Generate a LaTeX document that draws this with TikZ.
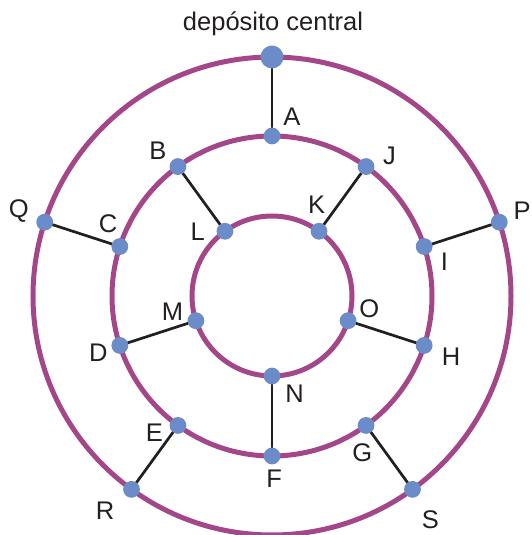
\documentclass[tikz,border=0pt]{standalone}
\usepackage{fontspec}
\setmainfont{Liberation Sans}
\definecolor{ring}{HTML}{A3478A}
\definecolor{dotblue}{HTML}{6B8CC8}
\definecolor{wire}{HTML}{231F20}
\begin{document}
\begin{tikzpicture}[x=1pt,y=1pt,
  ringline/.style={draw=ring,line width=5pt},
  wireline/.style={draw=wire,line width=2.7pt},
  dot/.style={circle,fill=dotblue,minimum size=16.8pt,inner sep=0pt},
  bigdot/.style={circle,fill=dotblue,minimum size=23pt,inner sep=0pt},
  lab/.style={inner sep=0pt,font=\fontsize{25.5}{30}\selectfont,text=wire}]
\useasboundingbox (-272,296) rectangle (260,-239);
\draw[ringline] (0,0) circle (239);
\draw[ringline] (0,0) circle (160);
\draw[ringline] (0,0) circle (80);
% outer ring points
\coordinate (dep) at (90:239);
\coordinate (Q) at (162:239);
\coordinate (R) at (234:239);
\coordinate (S) at (306:239);
\coordinate (P) at (18:239);
% middle ring points
\coordinate (A) at (90:160);
\coordinate (B) at (126:160);
\coordinate (C) at (162:160);
\coordinate (D) at (198:160);
\coordinate (E) at (234:160);
\coordinate (F) at (270:160);
\coordinate (G) at (306:160);
\coordinate (H) at (342:160);
\coordinate (I) at (18:160);
\coordinate (J) at (54:160);
% inner ring points
\coordinate (K) at (54:80);
\coordinate (L) at (126:80);
\coordinate (M) at (198:80);
\coordinate (N) at (270:80);
\coordinate (O) at (342:80);
% connectors
\draw[wireline] (dep) -- (A);
\draw[wireline] (B) -- (L);
\draw[wireline] (Q) -- (C);
\draw[wireline] (D) -- (M);
\draw[wireline] (R) -- (E);
\draw[wireline] (F) -- (N);
\draw[wireline] (S) -- (G);
\draw[wireline] (H) -- (O);
\draw[wireline] (P) -- (I);
\draw[wireline] (J) -- (K);
% dots
\node[bigdot] (ndep) at (dep) {};
\foreach \p in {Q,R,S,P,A,B,C,D,E,F,G,H,I,J,K,L,M,N,O}
  \node[dot] (n\p) at (\p) {};
% labels
\node[lab,anchor=base] (tdep) at (1,265) {depósito central};
\node[lab] (tA) at (19.8,179) {A};
\node[lab] (tB) at (-114.2,145) {B};
\node[lab] (tJ) at (117.5,140) {J};
\node[lab] (tQ) at (-253.3,84.8) {Q};
\node[lab] (tC) at (-164,72.6) {C};
\node[lab] (tL) at (-74.2,64.4) {L};
\node[lab] (tK) at (44.6,91.2) {K};
\node[lab] (tP) at (250,85) {P};
\node[lab] (tI) at (172.5,34.6) {I};
\node[lab] (tM) at (-99.6,-15.7) {M};
\node[lab] (tO) at (97.2,-13) {O};
\node[lab] (tD) at (-173.6,-57) {D};
\node[lab] (tH) at (179,-60.5) {H};
\node[lab] (tN) at (22.5,-98) {N};
\node[lab] (tE) at (-117.6,-136.4) {E};
\node[lab] (tG) at (90.4,-156.7) {G};
\node[lab] (tF) at (2.2,-182.9) {F};
\node[lab] (tR) at (-166.8,-215) {R};
\node[lab] (tS) at (158.3,-223.6) {S};
\end{tikzpicture}
\end{document}
